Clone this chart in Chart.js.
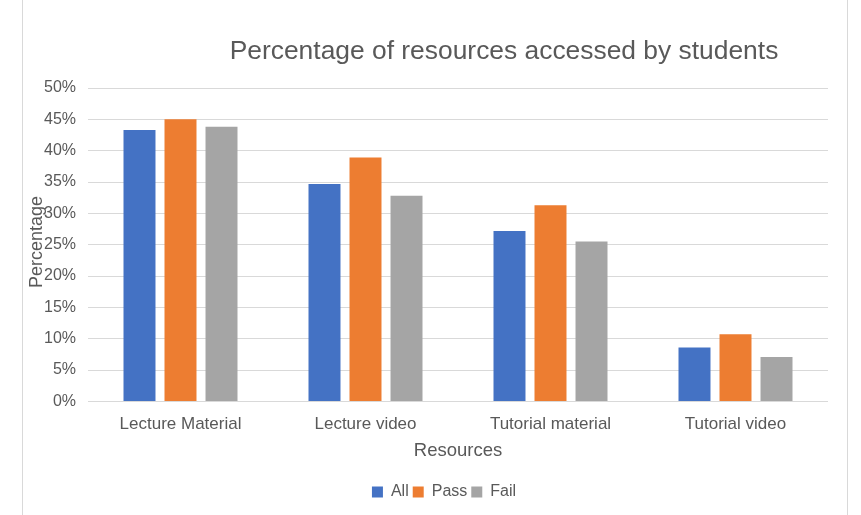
<!DOCTYPE html>
<html>
<head>
<meta charset="utf-8">
<script src="https://cdn.jsdelivr.net/npm/chart.js@4.4.1/dist/chart.umd.min.js"></script>
<style>
  html, body { margin: 0; padding: 0; background: #fff; }
  #wrap { position: relative; width: 861px; height: 515px; }
  #frame { position: absolute; left: 22px; top: 0; width: 826px; height: 515px;
           border-left: 1px solid #d9d9d9; border-right: 1px solid #d9d9d9; box-sizing: border-box; }
  canvas { position: absolute; left: 0; top: 0; }
</style>
</head>
<body>
<div id="wrap">
  <div id="frame"></div>
  <canvas id="chart" width="861" height="515"></canvas>
</div>
<script>
const categories = ["Lecture Material", "Lecture video", "Tutorial material", "Tutorial video"]
const allValues = [43.3, 34.7, 27.2, 8.6]
const passValues = [45.0, 38.9, 31.3, 10.7]
const failValues = [43.8, 32.8, 25.5, 7.1]
const yTicks = [0, 5, 10, 15, 20, 25, 30, 35, 40, 45, 50]

const textColor = "#595959"
const fontFamily = "'Liberation Sans', Arial, sans-serif"

// title and rotated axis label sit where Excel put them, overlapping the ticks
const excelText = {
  id: "excelText",
  afterLayout(chart) {
    // excel centres the legend a bit right of the canvas middle
    chart.legend.left += 30
    chart.legend.right += 30
  },
  afterDraw(chart) {
    const ctx = chart.ctx
    ctx.save()
    ctx.fillStyle = textColor
    ctx.font = "26.4px " + fontFamily
    ctx.textAlign = "center"
    ctx.textBaseline = "middle"
    ctx.fillText("Percentage of resources accessed by students", 504, 52)
    ctx.translate(37, 242)
    ctx.rotate(-Math.PI / 2)
    ctx.font = "18px " + fontFamily
    ctx.fillText("Percentage", 0, 0)
    ctx.restore()
  }
}

new Chart(document.getElementById("chart").getContext("2d"), {
  type: "bar",
  data: {
    labels: categories,
    datasets: [
      {label: "All", data: allValues, backgroundColor: "#4472c4"},
      {label: "Pass", data: passValues, backgroundColor: "#ed7d31"},
      {label: "Fail", data: failValues, backgroundColor: "#a5a5a5"}
    ]
  },
  options: {
    responsive: false,
    animation: false,
    layout: {padding: {top: 88, right: 33, left: 0, bottom: 5}},
    datasets: {bar: {categoryPercentage: 0.665, barPercentage: 0.78}},
    scales: {
      x: {
        grid: {display: false},
        border: {display: false},
        ticks: {color: textColor, font: {family: fontFamily, size: 17}, padding: 5, maxRotation: 0},
        title: {display: true, text: "Resources", color: textColor,
                font: {family: fontFamily, size: 18.5}, padding: {top: 0, bottom: 18}}
      },
      y: {
        min: 0, max: 50,
        afterFit: s => { s.width = 88 },
        afterBuildTicks: s => { s.ticks = yTicks.map(v => ({value: v})) },
        grid: {color: "#d9d9d9", lineWidth: 1, drawTicks: false},
        border: {display: false},
        ticks: {color: textColor, font: {family: fontFamily, size: 16}, padding: 12,
                callback: v => v + "%"}
      }
    },
    plugins: {
      legend: {
        position: "bottom",
        labels: {color: textColor, font: {family: fontFamily, size: 16},
                 boxWidth: 11, boxHeight: 11, padding: 4}
      },
      tooltip: {enabled: false}
    }
  },
  plugins: [excelText]
})
</script>
</body>
</html>
